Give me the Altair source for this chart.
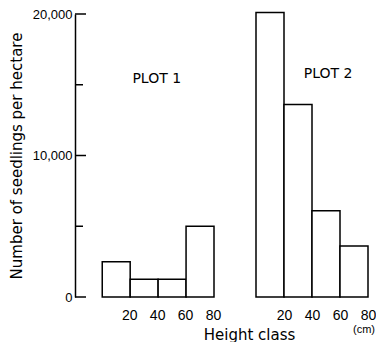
import altair as alt
import pandas as pd

# ---- data ----
bin_start = [0, 20, 40, 60]
bin_end = [20, 40, 60, 80]
plot1_density = [2500, 1250, 1250, 5000]
plot2_density = [20100, 13600, 6100, 3600]
x_tick_values = [20, 40, 60, 80]
y_major = [0, 10000, 20000]
y_minor = [5000, 15000]
panel_labels = ["PLOT 1", "PLOT 2"]

NUM_FONT = "Liberation Sans"
TXT_FONT = "DejaVu Sans"
H = 283
W1 = 139
W2 = 112

df1 = pd.DataFrame({"start": bin_start, "end": bin_end, "n": plot1_density})
df2 = pd.DataFrame({"start": bin_start, "end": bin_end, "n": plot2_density})

yscale = alt.Scale(domain=[0, 20000], nice=False, zero=True)
xscale1 = alt.Scale(domain=[-19.5, 80], nice=False, zero=False)
xscale2 = alt.Scale(domain=[0, 80], nice=False, zero=False)


def xaxis(**kw):
    args = dict(values=x_tick_values, domain=False, ticks=False, tickSize=0,
                labelPadding=11, labelFont=NUM_FONT, labelFontSize=14,
                labelColor="black", grid=False, labelFlush=False,
                labelOverlap=False, title=None)
    args.update(kw)
    return alt.Axis(**args)


yaxis1 = alt.Axis(values=y_major, format=",d", domain=True, domainColor="black",
                  domainWidth=1.5, ticks=False, tickSize=0, labelPadding=3,
                  labelFont=NUM_FONT, labelFontSize=13, labelColor="black",
                  labelFlush=False, labelOverlap=False, grid=False,
                  title="Number of seedlings per hectare", titleFont=TXT_FONT,
                  titleFontSize=15, titleFontWeight="normal", titleColor="black",
                  titlePadding=8)
xaxis1 = xaxis(labelOffset=-1)
xaxis2 = xaxis(title="Height class", titleFont=TXT_FONT, titleFontSize=15,
               titleFontWeight="normal", titleColor="black",
               titleX=-7, titleY=42, titleBaseline="alphabetic",
               titleAlign="center", titleAnchor="start")

bar_style = dict(fill="white", stroke="black", strokeWidth=1.5)

bars1 = alt.Chart(df1).mark_rect(**bar_style).encode(
    x=alt.X("start:Q", scale=xscale1, axis=xaxis1),
    x2="end:Q",
    y=alt.Y("n:Q", scale=yscale, axis=yaxis1),
    y2=alt.datum(0),
)

major = alt.Chart(pd.DataFrame({"v": y_major})).mark_rule(
    color="black", strokeWidth=1.5).encode(
    y=alt.Y("v:Q", scale=yscale, axis=yaxis1), x=alt.value(0), x2=alt.value(11))
minor = alt.Chart(pd.DataFrame({"v": y_minor})).mark_rule(
    color="black", strokeWidth=1.5).encode(
    y=alt.Y("v:Q", scale=yscale, axis=yaxis1), x=alt.value(0), x2=alt.value(8))

lab1 = alt.Chart(pd.DataFrame({"t": [panel_labels[0]]})).mark_text(
    font=TXT_FONT, fontSize=14, color="black", baseline="middle").encode(
    x=alt.X(datum=39, scale=xscale1, axis=xaxis1),
    y=alt.Y(datum=15400, scale=yscale, axis=yaxis1),
    text="t:N")

panel1 = alt.layer(bars1, major, minor, lab1).properties(width=W1, height=H)

bars2 = alt.Chart(df2).mark_rect(**bar_style).encode(
    x=alt.X("start:Q", scale=xscale2, axis=xaxis2),
    x2="end:Q",
    y=alt.Y("n:Q", scale=yscale, axis=None),
    y2=alt.datum(0),
)
lab2 = alt.Chart(pd.DataFrame({"t": [panel_labels[1]]})).mark_text(
    font=TXT_FONT, fontSize=14, color="black", baseline="middle").encode(
    x=alt.X(datum=51.5, scale=xscale2, axis=xaxis2),
    y=alt.Y(datum=15750, scale=yscale, axis=None),
    text="t:N")
unit = alt.Chart(pd.DataFrame({"t": ["(cm)"]})).mark_text(
    font=NUM_FONT, fontSize=11, color="black", baseline="middle", dx=-4).encode(
    x=alt.X(datum=80, scale=xscale2, axis=xaxis2),
    y=alt.value(H + 33), text="t:N")

panel2 = alt.layer(bars2, lab2, unit).properties(width=W2, height=H)

chart = alt.hconcat(panel1, panel2, spacing=42, bounds="flush").properties(
    padding={"left": 1, "top": 0, "right": 0, "bottom": 0},
    background="white",
).configure_view(stroke=None)

chart.save("out.html", embed_options={"renderer": "svg", "actions": False})
